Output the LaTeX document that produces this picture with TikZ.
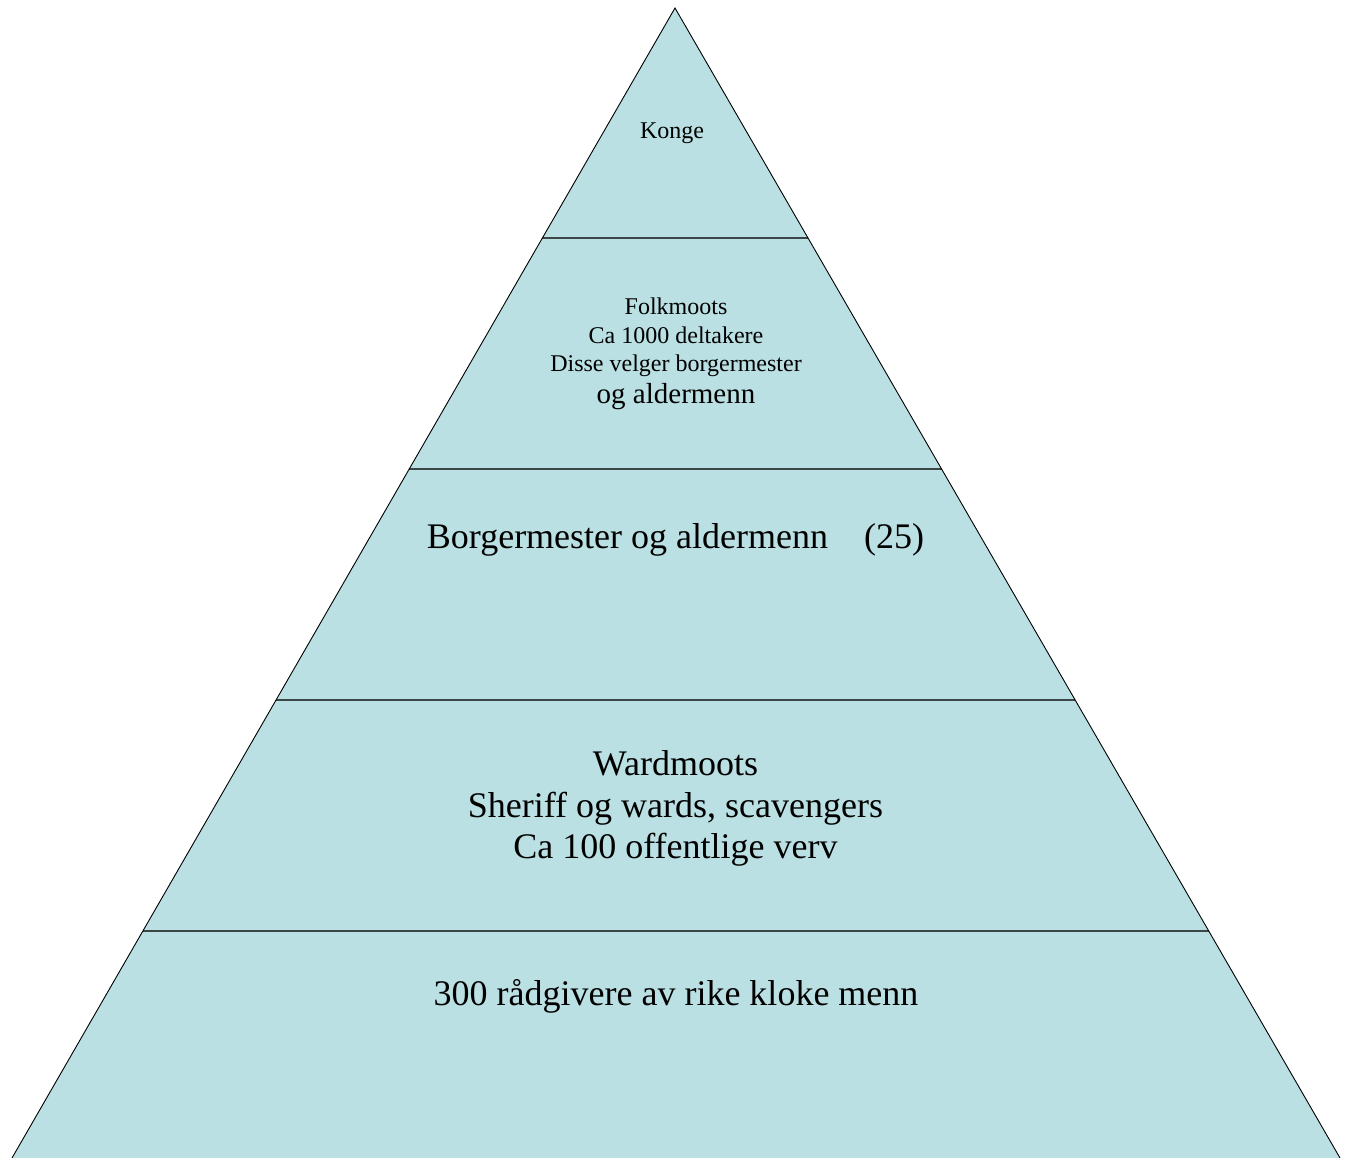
\documentclass[tikz,border=0pt]{standalone}
\usepackage{fontspec}
\setmainfont{Liberation Serif}
\usetikzlibrary{calc}
\definecolor{pyrfill}{HTML}{BAE0E3}
\definecolor{tierline}{HTML}{3C4646}
\tikzset{
  lbl/.style={anchor=base, inner sep=0pt, text=black},
  small/.style={lbl, font=\fontsize{24}{28}\selectfont},
  mid/.style={lbl, font=\fontsize{29}{33}\selectfont},
  big/.style={lbl, font=\fontsize{36}{42}\selectfont},
  huge/.style={lbl, font=\fontsize{36}{42}\selectfont},
  edge/.style={draw=black, line width=0.9pt},
  tier/.style={draw=tierline, line width=1.8pt}
}
\begin{document}
\begin{tikzpicture}[x=1pt,y=1pt]
\useasboundingbox (0,0) rectangle (1349,-1158);
\coordinate (apex) at (675,-8);
\coordinate (bl) at (12,-1158);
\coordinate (br) at (1340,-1158);
\fill[pyrfill] (apex) -- (br) -- (bl) -- cycle;
\foreach \yy/\nm in {238/a,469/b,700/c,931/d}{
  \pgfmathsetmacro{\t}{(\yy-8)/1150}
  \coordinate (L\nm) at ($(apex)!\t!(bl)$);
  \coordinate (R\nm) at ($(apex)!\t!(br)$);
  \draw[tier] (L\nm) -- (R\nm);
}
\draw[edge] (bl) -- (apex) -- (br);
\node[small] (konge) at (672,-139) {Konge};
\node[small] (folk1) at (676,-315) {Folkmoots};
\node[small] (folk2) at (676,-343) {Ca 1000 deltakere};
\node[small] (folk3) at (676,-371) {Disse velger borgermester};
\node[mid] (folk4) at (676,-403) {og aldermenn};
\node[big] (borg) at (675.5,-548) {Borgermester og aldermenn\hspace{1.0em}(25)};
\node[huge] (ward1) at (675.5,-775) {Wardmoots};
\node[huge] (ward2) at (675.5,-817) {Sheriff og wards, scavengers};
\node[huge] (ward3) at (675.5,-858) {Ca 100 offentlige verv};
\node[huge] (raad) at (676,-1005) {300 rådgivere av rike kloke menn};
\end{tikzpicture}
\end{document}
